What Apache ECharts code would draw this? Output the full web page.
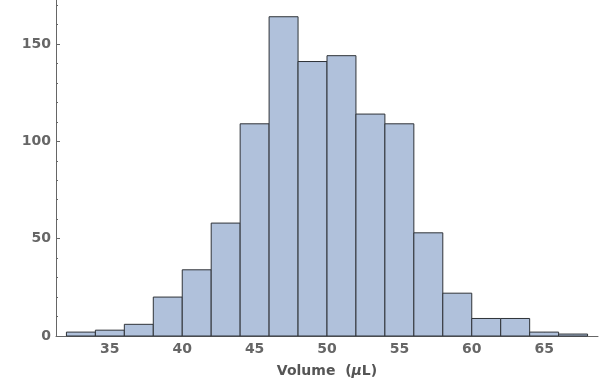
<!DOCTYPE html>
<html><head><meta charset="utf-8">
<script src="https://cdn.jsdelivr.net/npm/echarts@6/dist/echarts.min.js"></script>
<style>html,body{margin:0;padding:0;background:#fff}#c{width:600px;height:380px}</style>
</head><body><div id="c"></div>
<script>
const binEdges = [32,34,36,38,40,42,44,46,48,50,52,54,56,58,60,62,64,66,68];
const counts = [2,3,6,20,34,58,109,164,141,144,114,109,53,22,9,9,2,1];
const xTickLabels = [35,40,45,50,55,60,65];
const yTickLabels = [0,50,100,150];
const xMinorTicks = [32,33,34,36,37,38,39,41,42,43,44,46,47,48,49,51,52,53,54,56,57,58,59,61,62,63,64,66,67,68];
const yMinorTicks = [10,20,30,40,60,70,80,90,110,120,130,140,160,170];

const data = counts.map((c,i)=>[binEdges[i], binEdges[i+1], c]);
const axisColor = '#666';
const lblFont = {color:'#666', fontWeight:'bold', fontSize:14, fontFamily:'DejaVu Sans'};

const chart = echarts.init(document.getElementById('c'), null, {renderer:'canvas'});
chart.setOption({
  animation:false,
  grid:{left:56, right:2, top:0, bottom:44, containLabel:false, outerBoundsMode:'none'},
  xAxis:[{
    type:'value', min:31.28, max:68.72, position:'bottom',
    axisLine:{show:true, lineStyle:{color:axisColor, width:1}},
    axisTick:{show:true, inside:true, length:4, lineStyle:{color:axisColor}, customValues:xTickLabels},
    axisLabel:Object.assign({customValues:xTickLabels, margin:6}, lblFont),
    splitLine:{show:false},
    name:'{b|Volume  (}{i|μ}{b|L)}', nameLocation:'middle', nameGap:28,
    nameTextStyle:{rich:{
      b:{color:'#555', fontWeight:'bold', fontSize:14, fontFamily:'DejaVu Sans'},
      i:{color:'#555', fontWeight:'bold', fontStyle:'italic', fontSize:14, fontFamily:'DejaVu Sans'}
    }}
  },{
    type:'value', min:31.28, max:68.72, position:'bottom', gridIndex:0,
    axisLine:{show:false},
    axisTick:{show:true, inside:true, length:2, lineStyle:{color:axisColor}, customValues:xMinorTicks},
    axisLabel:{show:false}, splitLine:{show:false}
  }],
  yAxis:[{
    type:'value', min:0, max:172.6, position:'left',
    axisLine:{show:true, lineStyle:{color:axisColor, width:1}},
    axisTick:{show:true, inside:true, length:4, lineStyle:{color:axisColor}, customValues:yTickLabels},
    axisLabel:Object.assign({customValues:yTickLabels, margin:5}, lblFont),
    splitLine:{show:false}
  },{
    type:'value', min:0, max:172.6, position:'left', gridIndex:0,
    axisLine:{show:false},
    axisTick:{show:true, inside:true, length:2, lineStyle:{color:axisColor}, customValues:yMinorTicks},
    axisLabel:{show:false}, splitLine:{show:false}
  }],
  series:[{
    type:'custom', xAxisIndex:0, yAxisIndex:0,
    encode:{x:[0,1], y:2},
    data:data,
    renderItem:function(params, api){
      const p1 = api.coord([api.value(0), api.value(2)]);
      const p2 = api.coord([api.value(1), 0]);
      return {type:'rect', shape:{x:p1[0], y:p1[1], width:p2[0]-p1[0], height:p2[1]-p1[1]},
        style:{fill:'#B0C1DB', stroke:'#2f3338', lineWidth:1}};
    }
  }]
});
</script></body></html>
